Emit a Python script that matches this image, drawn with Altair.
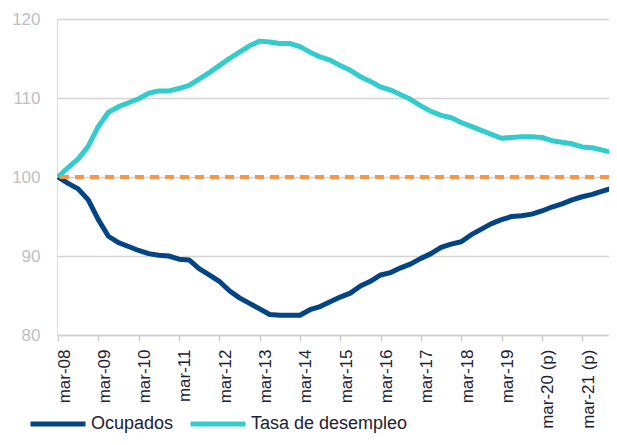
import altair as alt
import pandas as pd

# Quarterly index values (mar-08 = 100)
ocupados = [100.0, 99.2, 98.5, 97.1, 94.6, 92.5, 91.7, 91.2, 90.7, 90.3,
            90.1, 90.0, 89.6, 89.5, 88.4, 87.6, 86.8, 85.6, 84.7, 84.0,
            83.3, 82.6, 82.5, 82.5, 82.5, 83.2, 83.6, 84.2, 84.8, 85.3,
            86.2, 86.8, 87.6, 87.9, 88.5, 89.0, 89.7, 90.3, 91.1, 91.5,
            91.8, 92.7, 93.4, 94.1, 94.6, 95.0, 95.1, 95.3, 95.7, 96.2,
            96.6, 97.1, 97.5, 97.8, 98.2, 98.6]
desempleo = [100.0, 101.2, 102.3, 103.9, 106.4, 108.2, 108.9, 109.4, 109.9, 110.6,
             110.9, 110.9, 111.2, 111.6, 112.4, 113.2, 114.1, 115.0, 115.8, 116.6,
             117.2, 117.1, 116.9, 116.9, 116.5, 115.8, 115.2, 114.8, 114.1, 113.5,
             112.7, 112.1, 111.4, 111.0, 110.4, 109.8, 109.0, 108.3, 107.8, 107.5,
             106.9, 106.4, 105.9, 105.4, 104.9, 105.0, 105.1, 105.1, 105.0, 104.6,
             104.4, 104.2, 103.8, 103.7, 103.4, 103.1]
tick_labels = ["mar-08", "mar-09", "mar-10", "mar-11", "mar-12", "mar-13", "mar-14",
               "mar-15", "mar-16", "mar-17", "mar-18", "mar-19", "mar-20 (p)", "mar-21 (p)"]
series_names = ["Ocupados", "Tasa de desempleo"]
series_colors = ["#034484", "#33cccc"]
reference_value = [100]

rows = []
for i, v in enumerate(ocupados):
    rows.append({"q": i, "valor": v, "serie": series_names[0]})
for i, v in enumerate(desempleo):
    rows.append({"q": i, "valor": v, "serie": series_names[1]})
df = pd.DataFrame(rows)
ref_df = pd.DataFrame({"y": reference_value})

FONT = "Liberation Sans"
label_arr = "[" + ",".join("'" + t + "'" for t in tick_labels) + "]"

x_scale = alt.Scale(domain=[-0.1, 54.66], nice=False, zero=False)
y_scale = alt.Scale(domain=[80, 120], nice=False, zero=False)

lines = alt.Chart(df).mark_line(strokeWidth=5, clip=True, strokeJoin="round").encode(
    x=alt.X("q:Q", scale=x_scale,
            axis=alt.Axis(values=[i * 4 for i in range(len(tick_labels))],
                          labelExpr=label_arr + "[datum.value / 4]",
                          labelAngle=-90, labelAlign="right", labelBaseline="middle",
                          labelOffset=6, labelPadding=8, labelFont=FONT,
                          labelFontSize=17, labelColor="#1a2233",
                          tickSize=6, tickColor="#d0d0d0", tickWidth=1.5,
                          domainColor="#d0d0d0", domainWidth=1.5,
                          grid=False, title=None, labelOverlap=False)),
    y=alt.Y("valor:Q", scale=y_scale,
            axis=alt.Axis(values=[80, 90, 100, 110, 120], ticks=False, tickSize=0,
                          domain=False, labelPadding=17, labelFont=FONT,
                          labelFontSize=17, labelColor="#bfbfbf",
                          gridColor="#d4d4d4", gridWidth=1.5, title=None)),
    color=alt.Color("serie:N",
                    scale=alt.Scale(domain=series_names, range=series_colors),
                    legend=alt.Legend(orient="none", direction="horizontal",
                                      legendX=-29, legendY=375, title=None,
                                      symbolType="stroke", symbolStrokeWidth=5,
                                      symbolSize=3025, labelFont=FONT,
                                      labelFontSize=18, labelColor="#1a2233",
                                      labelOffset=3, columnPadding=6)),
    order=alt.Order("q:Q"),
)

ref = alt.Chart(ref_df).mark_rule(color="#f79646", strokeWidth=4,
                                  strokeDash=[9, 6], strokeCap="butt").encode(
    y=alt.Y("y:Q", scale=y_scale)
)

chart = alt.layer(lines, ref).properties(
    width=552, height=316,
    padding={"left": 49, "top": 11, "right": 0, "bottom": 102},
    autosize=alt.AutoSizeParams(type="none"),
).configure_view(stroke=None).configure(font=FONT)

chart.save("out.html", embed_options={"renderer": "svg", "actions": False})
